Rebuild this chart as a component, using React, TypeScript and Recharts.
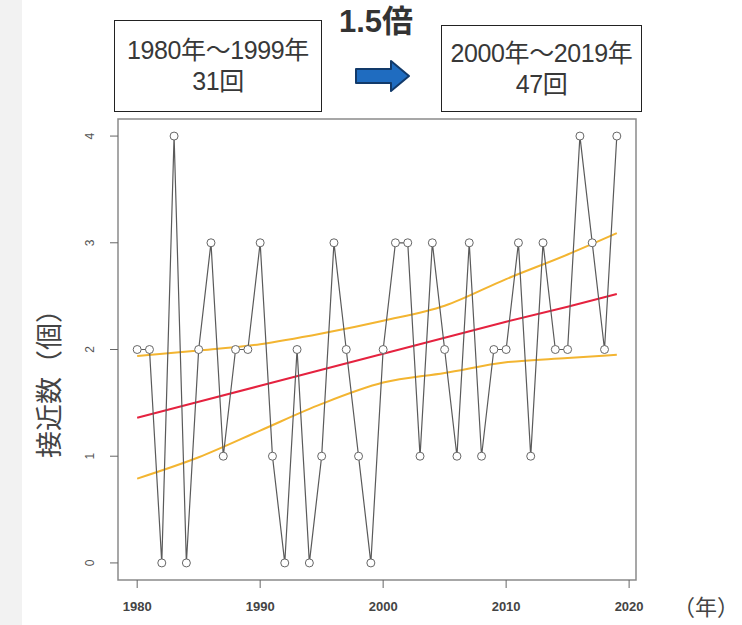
import {
  ComposedChart,
  Line,
  XAxis,
  YAxis,
  ReferenceArea,
} from 'recharts';

// 接近数（個） per year
const years = [
  1980, 1981, 1982, 1983, 1984, 1985, 1986, 1987, 1988, 1989,
  1990, 1991, 1992, 1993, 1994, 1995, 1996, 1997, 1998, 1999,
  2000, 2001, 2002, 2003, 2004, 2005, 2006, 2007, 2008, 2009,
  2010, 2011, 2012, 2013, 2014, 2015, 2016, 2017, 2018, 2019,
];
const counts = [
  2, 2, 0, 4, 0, 2, 3, 1, 2, 2,
  3, 1, 0, 2, 0, 1, 3, 2, 1, 0,
  2, 3, 3, 1, 3, 2, 1, 3, 1, 2,
  2, 3, 1, 3, 2, 2, 4, 3, 2, 4,
];

// trend line and its band
const trendYears = [1980, 1985, 1990, 1995, 2000, 2005, 2010, 2015, 2019];
const trendMid = [1.36, 1.51, 1.66, 1.81, 1.96, 2.11, 2.26, 2.40, 2.52];
const trendUpper = [1.94, 1.99, 2.05, 2.15, 2.27, 2.41, 2.66, 2.89, 3.09];
const trendLower = [0.79, 0.99, 1.24, 1.49, 1.69, 1.78, 1.88, 1.92, 1.95];

const xTicks = [1980, 1990, 2000, 2010, 2020];
const yTicks = [0, 1, 2, 3, 4];
const xDomain = [1978.44, 2020.56];
const yDomain = [-0.16, 4.16];

const countData = years.map((year, i) => ({ year, count: counts[i] }));
const trendData = trendYears.map((year, i) => ({
  year,
  mid: trendMid[i],
  upper: trendUpper[i],
  lower: trendLower[i],
}));

const axisFont = '"Liberation Sans", Arial, sans-serif';
const jpFont = '"Noto Sans CJK JP", sans-serif';
const mixFont = '"Liberation Sans", "Noto Sans CJK JP", sans-serif';

function YTick({ x, y, payload }: any) {
  const cx = x - 18;
  return (
    <text
      x={cx}
      y={y}
      transform={`rotate(-90 ${cx} ${y})`}
      textAnchor="middle"
      dominantBaseline="central"
      fontSize={12}
      fontFamily={axisFont}
      fill="#555"
    >
      {payload.value}
    </text>
  );
}

function XTick({ x, y, payload }: any) {
  return (
    <text
      x={x}
      y={y + 21}
      textAnchor="middle"
      fontSize={13}
      fontWeight={600}
      fontFamily={axisFont}
      fill="#444"
    >
      {payload.value}
    </text>
  );
}

const boxStyle = {
  position: 'absolute' as const,
  border: '1.5px solid #222',
  background: '#fff',
  boxSizing: 'border-box' as const,
  display: 'flex',
  flexDirection: 'column' as const,
  alignItems: 'center',
  justifyContent: 'center',
  fontFamily: mixFont,
  fontSize: 25,
  lineHeight: '31px',
  color: '#383838',
  letterSpacing: -0.4,
};

export default function App() {
  return (
    <div style={{ position: 'absolute', left: 0, top: 0, width: 742, height: 625, background: '#fff', overflow: 'hidden' }}>
      <div style={{ position: 'absolute', left: 0, top: 0, width: 22, height: 625, background: '#f2f2f2' }} />

      <ComposedChart
        width={742}
        height={625}
        margin={{ top: 119, right: 106, bottom: 0, left: 0 }}
        style={{ position: 'absolute', left: 0, top: 0 }}
      >
        <XAxis
          type="number"
          dataKey="year"
          domain={xDomain}
          ticks={xTicks}
          allowDataOverflow
          axisLine={false}
          tickSize={8}
          tickLine={{ stroke: '#666' }}
          tick={<XTick />}
          height={45}
        />
        <YAxis
          type="number"
          domain={yDomain}
          ticks={yTicks}
          allowDataOverflow
          axisLine={false}
          tickSize={8}
          tickLine={{ stroke: '#666' }}
          tick={<YTick />}
          width={118}
        />
        <ReferenceArea
          x1={xDomain[0]}
          x2={xDomain[1]}
          y1={yDomain[0]}
          y2={yDomain[1]}
          fill="none"
          fillOpacity={0}
          stroke="#8a8a8a"
          strokeWidth={1.5}
          ifOverflow="extendDomain"
        />
        <Line data={trendData} dataKey="upper" type="monotone" stroke="#f3b531" strokeWidth={2} dot={false} isAnimationActive={false} />
        <Line data={trendData} dataKey="lower" type="monotone" stroke="#f3b531" strokeWidth={2} dot={false} isAnimationActive={false} />
        <Line data={trendData} dataKey="mid" type="linear" stroke="#e5223f" strokeWidth={2} dot={false} isAnimationActive={false} />
        <Line
          data={countData}
          dataKey="count"
          type="linear"
          stroke="#5a5a5a"
          strokeWidth={1.2}
          dot={{ r: 4, fill: '#fff', stroke: '#666', strokeWidth: 1 }}
          isAnimationActive={false}
        />
      </ComposedChart>

      <div
        style={{
          position: 'absolute',
          left: 48,
          top: 377,
          transform: 'translate(-50%, -50%) rotate(-90deg)',
          transformOrigin: 'center',
          whiteSpace: 'nowrap',
          fontFamily: jpFont,
          fontSize: 27,
          lineHeight: '32px',
          color: '#444',
        }}
      >
        接近数（個）
      </div>
      <div style={{ position: 'absolute', left: 673, top: 588, fontFamily: jpFont, fontSize: 22, lineHeight: '34px', color: '#444' }}>（年）</div>

      <div style={{ ...boxStyle, left: 114, top: 20, width: 208, height: 92 }}>
        <div>1980年～1999年</div>
        <div>31回</div>
      </div>
      <div style={{ ...boxStyle, left: 441, top: 25, width: 201, height: 87 }}>
        <div>2000年～2019年</div>
        <div>47回</div>
      </div>

      <div style={{ position: 'absolute', left: 339, top: 4, fontFamily: mixFont, fontWeight: 700, fontSize: 31, lineHeight: '36px', color: '#333' }}>1.5倍</div>
      <svg style={{ position: 'absolute', left: 354, top: 58 }} width={58} height={36}>
        <path d="M2 11 L37 11 L37 3 L55 18 L37 33 L37 25 L2 25 Z" fill="#1f6cc0" stroke="#123a6a" strokeWidth={2} strokeLinejoin="round" />
      </svg>
    </div>
  );
}
